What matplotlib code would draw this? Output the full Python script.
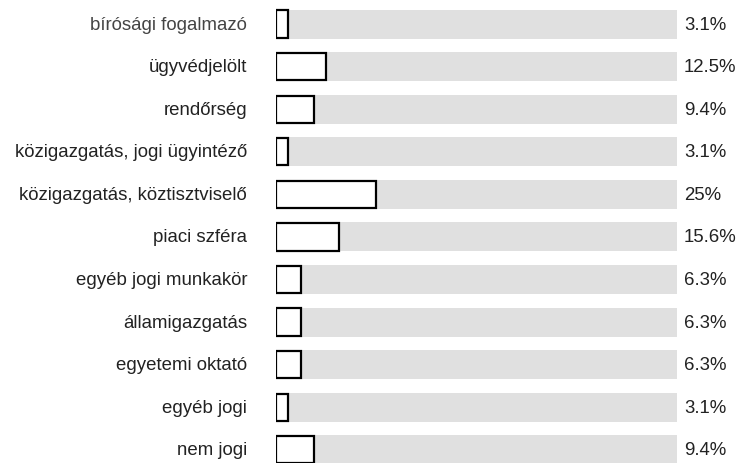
import matplotlib.pyplot as plt

labels = ["bírósági fogalmazó", "ügyvédjelölt", "rendőrség",
          "közigazgatás, jogi ügyintéző", "közigazgatás, köztisztviselő",
          "piaci szféra", "egyéb jogi munkakör", "államigazgatás",
          "egyetemi oktató", "egyéb jogi", "nem jogi"]
values = [3.1, 12.5, 9.4, 3.1, 25, 15.6, 6.3, 6.3, 6.3, 3.1, 9.4]
value_text = ["3.1%", "12.5%", "9.4%", "3.1%", "25%", "15.6%",
              "6.3%", "6.3%", "6.3%", "3.1%", "9.4%"]

plt.rcParams['font.family'] = ['Liberation Sans', 'DejaVu Sans']

fig = plt.figure(figsize=(7.42, 4.64), dpi=100)
ax = fig.add_axes([276 / 742, 0, (677 - 276) / 742, 1])

y = list(range(len(labels)))
ax.barh(y, [100] * len(y), height=0.68, color='#e0e0e0', zorder=1)
ax.barh(y, values, height=0.64, color='white', edgecolor='black',
        linewidth=1.6, zorder=2)

for i, (lab, txt) in enumerate(zip(labels, value_text)):
    ax.text(-0.072, i, lab, transform=ax.get_yaxis_transform(),
            ha='right', va='center', fontsize=13.4,
            color='#444444' if i == 0 else '#222222')
    ax.text(1.017, i, txt, transform=ax.get_yaxis_transform(),
            ha='left', va='center', fontsize=13.4, color='#222222')

ax.set_xlim(0, 100)
ax.set_ylim(10.31, -0.59)
ax.axis('off')

fig.savefig('out.png', dpi=100)
